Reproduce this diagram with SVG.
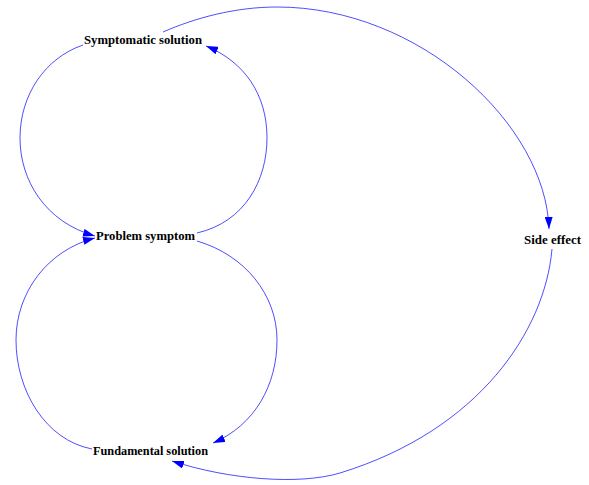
<svg xmlns="http://www.w3.org/2000/svg" width="589" height="485" viewBox="0 0 589 485">
  <style>
    .edge { fill: none; stroke: #0000ff; stroke-width: 0.7; marker-end: url(#arrow); }
    .label { font-family: "Liberation Serif", "Times New Roman", serif; font-weight: bold; font-size: 12.5px; fill: #000000; }
  </style>
  <defs>
    <marker id="arrow" viewBox="0 0 12 8" refX="12" refY="4" markerWidth="12" markerHeight="8" markerUnits="userSpaceOnUse" orient="auto">
      <path d="M0,0 L12,4 L0,8 Z" fill="#0000ff"/>
    </marker>
  </defs>
  <rect width="589" height="485" fill="#ffffff"/>

  <g id="connectors">
    <!-- Symptomatic solution -> Problem symptom (left loop) -->
    <path class="edge" d="M83,45 C45,58 20,95 20,138 C20,180 45,222 95,236"/>
    <!-- Problem symptom -> Symptomatic solution (right loop) -->
    <path class="edge" d="M197,233 C245,222 267,180 267,138 C267,95 245,62 206,46"/>
    <!-- Fundamental solution -> Problem symptom -->
    <path class="edge" d="M92,449 C45,440 16,390 16,340 C16,292 48,250 95,238"/>
    <!-- Problem symptom -> Fundamental solution -->
    <path class="edge" d="M197,241 C245,255 277,295 277,340 C277,385 255,425 213,443"/>
    <!-- Symptomatic solution -> Side effect -->
    <path class="edge" d="M163,32 C195,18 235,7 277,7 C420,7 546,125 549,229"/>
    <!-- Side effect -> Fundamental solution -->
    <path class="edge" d="M552,249 C545,330 480,430 340,473 C300,485 230,480 172,461"/>
  </g>

  <g id="symptomatic-solution">
    <text class="label" x="84" y="44" textLength="118" lengthAdjust="spacingAndGlyphs">Symptomatic solution</text>
  </g>
  <g id="problem-symptom">
    <text class="label" x="96" y="240" textLength="99" lengthAdjust="spacingAndGlyphs">Problem symptom</text>
  </g>
  <g id="fundamental-solution">
    <text class="label" x="93" y="455" textLength="115" lengthAdjust="spacingAndGlyphs">Fundamental solution</text>
  </g>
  <g id="side-effect">
    <text class="label" x="524" y="244" textLength="57" lengthAdjust="spacingAndGlyphs">Side effect</text>
  </g>
</svg>
